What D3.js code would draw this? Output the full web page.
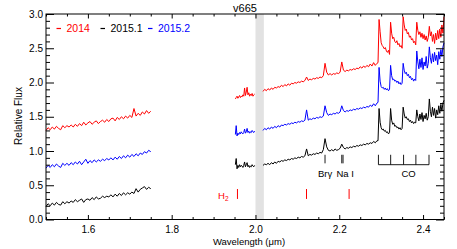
<!DOCTYPE html>
<html>
<head>
<meta charset="utf-8">
<script src="https://cdn.jsdelivr.net/npm/d3@7"></script>
<style>
  body { margin: 0; background: #fff; }
  svg text { font-family: "Liberation Sans", Arial, Helvetica, sans-serif; }
</style>
</head>
<body>
<div id="vis"></div>
<script>
// spectra of v665, three epochs, offset in flux

const width = 457, height = 249;
const plot = { left: 46, right: 444, top: 14, bottom: 219.5 };

// wavelength sampling of each segment (micron)
const wlH = d3.range(51).map(i => 1.5 + i * 0.005);      // 1.500 - 1.750
const wlK1 = d3.range(24).map(i => 1.952 + i * 0.002);   // 1.952 - 1.998
const wlK2 = d3.range(69).map(i => 2.018 + i * 0.004);   // 2.018 - 2.290
const wlCO = d3.range(64).map(i => 2.2925 + i * 0.0025); // 2.2925 - 2.450

// 2014 (red)
const red_H = [1.30,1.34,1.31,1.35,1.32,1.36,1.33,1.31,1.37,1.34,1.37,1.35,1.38,1.35,1.39,1.36,1.40,1.37,1.42,1.38,
  1.41,1.43,1.39,1.42,1.44,1.40,1.43,1.45,1.42,1.46,1.43,1.47,1.48,1.44,1.49,1.46,1.50,1.47,1.51,1.48,
  1.52,1.49,1.62,1.51,1.55,1.52,1.57,1.54,1.59,1.55,1.58];
const red_K1 = [1.76,1.78,1.80,1.77,1.79,1.81,1.78,1.80,1.79,1.82,1.80,1.92,1.81,1.86,1.93,1.82,1.85,1.80,1.83,1.81,1.84,1.80,1.82,1.83];
const red_K2 = [1.87,1.90,1.88,1.91,1.89,1.92,1.90,1.93,1.92,1.94,1.93,1.96,1.94,1.97,1.95,1.98,1.96,1.99,1.98,2.00,
  1.99,2.01,2.00,2.02,2.01,2.03,2.08,2.03,2.05,2.04,2.06,2.05,2.07,2.06,2.08,2.07,2.10,2.28,2.15,2.11,
  2.13,2.11,2.13,2.12,2.14,2.13,2.15,2.30,2.18,2.16,2.18,2.17,2.19,2.18,2.20,2.19,2.21,2.20,2.23,2.21,
  2.24,2.22,2.25,2.23,2.27,2.24,2.29,2.25,2.28];
const red_CO = [2.29,2.92,2.74,2.58,2.54,2.52,2.49,2.51,2.46,2.44,2.47,2.41,2.88,2.72,2.64,2.66,2.60,2.58,2.61,2.55,
  2.57,2.52,2.54,2.50,2.96,2.84,2.76,2.78,2.71,2.73,2.66,2.68,2.62,2.64,2.58,2.60,2.55,2.88,2.76,2.70,
  2.74,2.66,2.72,2.64,2.70,2.62,2.68,2.60,2.66,2.82,2.68,2.74,2.60,2.70,2.57,2.72,2.62,2.76,2.64,2.78,
  2.66,2.84,2.72,2.96];

// 2015.1 (black)
const black_H = [0.19,0.23,0.20,0.24,0.21,0.25,0.22,0.21,0.26,0.23,0.26,0.24,0.27,0.25,0.29,0.26,0.28,0.30,0.25,0.29,
  0.30,0.28,0.32,0.29,0.33,0.30,0.31,0.34,0.32,0.34,0.33,0.36,0.33,0.37,0.34,0.38,0.35,0.39,0.36,0.39,
  0.37,0.40,0.38,0.45,0.40,0.44,0.46,0.48,0.44,0.47,0.45];
const black_K1 = [0.80,0.89,0.74,0.79,0.76,0.80,0.77,0.79,0.78,0.76,0.79,0.84,0.77,0.80,0.83,0.77,0.79,0.76,0.78,0.77,0.80,0.78,0.77,0.79];
const black_K2 = [0.79,0.81,0.80,0.82,0.80,0.83,0.81,0.84,0.82,0.85,0.84,0.86,0.85,0.87,0.86,0.88,0.87,0.89,0.88,0.90,
  0.89,0.91,0.90,0.92,0.91,0.93,1.03,0.93,0.95,0.94,0.96,0.95,0.97,0.96,0.98,0.97,1.02,1.18,1.06,1.01,
  1.00,1.02,1.00,1.03,1.01,1.02,1.04,1.10,1.05,1.03,1.05,1.04,1.06,1.05,1.07,1.06,1.08,1.07,1.09,1.08,
  1.10,1.09,1.11,1.10,1.12,1.11,1.14,1.12,1.15];
const black_CO = [1.15,1.62,1.42,1.34,1.31,1.32,1.29,1.30,1.27,1.28,1.25,1.27,1.62,1.45,1.39,1.41,1.36,1.37,1.34,1.35,
  1.32,1.34,1.31,1.33,1.64,1.54,1.48,1.50,1.46,1.47,1.43,1.45,1.41,1.43,1.40,1.42,1.41,1.60,1.50,1.44,
  1.54,1.46,1.56,1.43,1.52,1.47,1.55,1.45,1.50,1.76,1.58,1.50,1.64,1.52,1.62,1.48,1.60,1.53,1.66,1.55,
  1.68,1.58,1.70,1.74];

// 2015.2 (blue)
const blue_H = [0.75,0.79,0.76,0.80,0.77,0.81,0.78,0.76,0.82,0.79,0.82,0.79,0.83,0.80,0.84,0.81,0.85,0.80,0.84,0.88,
  0.82,0.86,0.83,0.87,0.84,0.87,0.85,0.88,0.86,0.89,0.87,0.90,0.87,0.91,0.88,0.92,0.89,0.93,0.90,0.94,
  0.91,0.95,0.92,0.96,0.93,0.97,0.95,0.99,0.97,1.01,0.99];
const blue_K1 = [1.24,1.37,1.22,1.26,1.24,1.27,1.25,1.28,1.26,1.25,1.27,1.32,1.26,1.28,1.33,1.27,1.29,1.26,1.28,1.27,1.30,1.28,1.27,1.29];
const blue_K2 = [1.30,1.33,1.31,1.34,1.32,1.35,1.33,1.36,1.34,1.37,1.35,1.38,1.37,1.39,1.38,1.40,1.39,1.41,1.40,1.42,
  1.41,1.43,1.42,1.44,1.43,1.45,1.60,1.45,1.47,1.46,1.48,1.47,1.49,1.48,1.50,1.49,1.51,1.66,1.56,1.52,
  1.54,1.53,1.55,1.54,1.56,1.55,1.57,1.66,1.59,1.57,1.59,1.58,1.60,1.59,1.61,1.60,1.62,1.61,1.63,1.62,
  1.64,1.63,1.65,1.64,1.67,1.65,1.69,1.66,1.70];
const blue_CO = [1.71,2.22,2.02,1.94,1.92,1.93,1.90,1.92,1.89,1.91,1.88,1.90,2.25,2.10,2.04,2.05,2.02,2.03,2.00,2.02,
  1.98,2.00,1.97,1.99,2.28,2.18,2.13,2.15,2.10,2.12,2.07,2.09,2.04,2.06,2.02,2.05,2.03,2.46,2.30,2.20,
  2.34,2.22,2.36,2.19,2.30,2.24,2.38,2.21,2.28,2.52,2.36,2.28,2.42,2.30,2.44,2.32,2.40,2.26,2.45,2.34,
  2.48,2.38,2.52,2.58];

const epochs = ["2014", "2015.1", "2015.2"];
const colors = ["#ff0000", "#000000", "#0000ff"];

// line identifications
const brgWl = [2.166];
const naWl = [2.206, 2.209];
const coWl = [2.2935, 2.3227, 2.3535, 2.3829, 2.4142];
const h2Wl = [1.957, 2.1218, 2.2235];
const gapBand = [2.0, 2.02];

const xTicks = [1.6, 1.8, 2.0, 2.2, 2.4];
const yTicks = [0.0, 0.5, 1.0, 1.5, 2.0, 2.5, 3.0];

let svg = d3.select("#vis").append("svg")
  .attr("width", width)
  .attr("height", height);

let x = d3.scaleLinear().domain([1.5, 2.45]).range([plot.left, plot.right]);
let y = d3.scaleLinear().domain([0, 3]).range([plot.bottom, plot.top]);

// gray telluric band
svg.append("rect")
  .attr("x", x(gapBand[0]))
  .attr("y", plot.top)
  .attr("width", x(gapBand[1]) - x(gapBand[0]))
  .attr("height", plot.bottom - plot.top)
  .style("fill", "#e2e2e2");

// spectra
const line = d3.line().x(d => x(d[0])).y(d => y(d[1]));
const zip = (w, f) => w.map((v, i) => [v, f[i]]);

const series = [
  [red_H, red_K1, red_K2.concat(red_CO)],
  [black_H, black_K1, black_K2.concat(black_CO)],
  [blue_H, blue_K1, blue_K2.concat(blue_CO)],
];
const grids = [wlH, wlK1, wlK2.concat(wlCO)];

series.forEach((segs, s) => {
  segs.forEach((f, k) => {
    svg.append("path")
      .datum(zip(grids[k], f))
      .attr("d", line)
      .style("fill", "none")
      .style("stroke", colors[s])
      .style("stroke-width", 1)
      .style("stroke-linejoin", "round");
  });
});

// axes, ticks inward on all four sides
const minorX = d3.range(1.5, 2.451, 0.05).filter(v => !xTicks.some(t => Math.abs(t - v) < 1e-6));
const minorY = d3.range(0, 3.001, 0.1).filter(v => Math.abs(v * 2 - Math.round(v * 2)) > 1e-6);

function axisStyle(g) {
  g.select(".domain").remove();
  g.selectAll(".tick line").style("stroke", "#000").style("stroke-width", 1);
  g.selectAll(".tick text").style("font-size", "10px").style("fill", "#000");
}

svg.append("g").attr("transform", `translate(0,${plot.bottom})`)
  .call(d3.axisBottom(x).tickValues(xTicks).tickSize(-4.5).tickSizeOuter(0).tickPadding(6).tickFormat(d3.format(".1f")))
  .call(axisStyle);
svg.append("g").attr("transform", `translate(0,${plot.bottom})`)
  .call(d3.axisBottom(x).tickValues(minorX).tickSize(-2.5).tickFormat(""))
  .call(axisStyle);
svg.append("g").attr("transform", `translate(0,${plot.top})`)
  .call(d3.axisTop(x).tickValues(xTicks).tickSize(-4.5).tickFormat(""))
  .call(axisStyle);
svg.append("g").attr("transform", `translate(0,${plot.top})`)
  .call(d3.axisTop(x).tickValues(minorX).tickSize(-2.5).tickFormat(""))
  .call(axisStyle);

svg.append("g").attr("transform", `translate(${plot.left},0)`)
  .call(d3.axisLeft(y).tickValues(yTicks).tickSize(-8).tickPadding(3).tickFormat(d3.format(".1f")))
  .call(axisStyle);
svg.append("g").attr("transform", `translate(${plot.left},0)`)
  .call(d3.axisLeft(y).tickValues(minorY).tickSize(-4).tickFormat(""))
  .call(axisStyle);
svg.append("g").attr("transform", `translate(${plot.right},0)`)
  .call(d3.axisRight(y).tickValues(yTicks).tickSize(-8).tickFormat(""))
  .call(axisStyle);
svg.append("g").attr("transform", `translate(${plot.right},0)`)
  .call(d3.axisRight(y).tickValues(minorY).tickSize(-4).tickFormat(""))
  .call(axisStyle);

svg.append("rect")
  .attr("x", plot.left).attr("y", plot.top)
  .attr("width", plot.right - plot.left).attr("height", plot.bottom - plot.top)
  .style("fill", "none").style("stroke", "#000").style("stroke-width", 1);

// titles
svg.append("text").attr("x", 245).attr("y", 11.5)
  .attr("text-anchor", "middle").style("font-size", "11px").text("v665");
svg.append("text").attr("x", 249).attr("y", 245)
  .attr("text-anchor", "middle").style("font-size", "9.5px").text("Wavelength (\u03bcm)");
svg.append("text").attr("transform", "translate(22,116) rotate(-90)")
  .attr("text-anchor", "middle").style("font-size", "10px").text("Relative Flux");

// legend
const legX = [56.5, 100.5, 148];
epochs.forEach((e, i) => {
  svg.append("line")
    .attr("x1", legX[i]).attr("x2", legX[i] + 4.5)
    .attr("y1", 28.5).attr("y2", 28.5)
    .style("stroke", colors[i]).style("stroke-width", 1.2);
  svg.append("text")
    .attr("x", legX[i] + 10).attr("y", 32)
    .style("font-size", "10.5px").style("fill", colors[i])
    .text(e);
});

// Br gamma and Na I markers
brgWl.concat(naWl).forEach(w => {
  svg.append("line")
    .attr("x1", x(w)).attr("x2", x(w))
    .attr("y1", y(0.945)).attr("y2", y(0.82))
    .style("stroke", "#000").style("stroke-width", 0.9);
});
svg.append("text").attr("x", x(2.166)).attr("y", 177)
  .attr("text-anchor", "middle").style("font-size", "9.5px").text("Br\u03b3");
svg.append("text").attr("x", x(2.214)).attr("y", 177)
  .attr("text-anchor", "middle").style("font-size", "9.5px").text("Na I");

// CO bandhead comb
svg.append("line")
  .attr("x1", x(coWl[0])).attr("x2", x(coWl[coWl.length - 1]))
  .attr("y1", y(0.80)).attr("y2", y(0.80))
  .style("stroke", "#000").style("stroke-width", 0.9);
coWl.forEach(w => {
  svg.append("line")
    .attr("x1", x(w)).attr("x2", x(w))
    .attr("y1", y(0.80)).attr("y2", y(0.945))
    .style("stroke", "#000").style("stroke-width", 0.9);
});
svg.append("text").attr("x", x(2.3655)).attr("y", 177)
  .attr("text-anchor", "middle").style("font-size", "9.5px").text("CO");

// H2 lines
h2Wl.forEach(w => {
  svg.append("line")
    .attr("x1", x(w)).attr("x2", x(w))
    .attr("y1", y(0.445)).attr("y2", y(0.30))
    .style("stroke", "#ff0000").style("stroke-width", 1);
});
let h2 = svg.append("text").attr("x", 218).attr("y", 199)
  .style("font-size", "9.5px").style("fill", "#ff0000");
h2.append("tspan").text("H");
h2.append("tspan").attr("dy", 2).style("font-size", "6.5px").text("2");
</script>
</body>
</html>
